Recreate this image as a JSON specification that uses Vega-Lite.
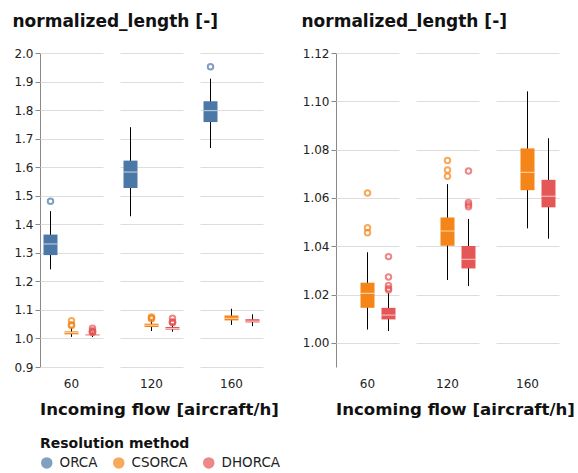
{
  "$schema": "https://vega.github.io/schema/vega-lite/v6.json",
  "padding": {"left": 12, "top": 12, "right": 0, "bottom": 0},
  "config": {
    "font": "DejaVu Sans",
    "view": {"stroke": null},
    "axis": {"labelFontSize": 12, "titleFontSize": 17, "titleFontWeight": "bold", "titleAngle": 0, "titleAlign": "left", "titleBaseline": "alphabetic", "labelColor": "#222", "titleColor": "#111", "labelOverlap": false, "labelFlush": false},
    "header": {"labelFontSize": 12, "titleFontSize": 16.6, "titleFontWeight": "bold", "labelOrient": "bottom", "titleOrient": "bottom", "titleAnchor": "start", "labelColor": "#222", "titleColor": "#111", "labelPadding": 12, "titlePadding": 2},
    "legend": {"orient": "bottom", "direction": "horizontal", "titleFontSize": 14, "labelFontSize": 13.5, "symbolType": "circle", "symbolSize": 100, "symbolOpacity": 0.7, "labelColor": "#222", "titleColor": "#111", "labelOffset": 6, "columnPadding": 12},
    "concat": {"spacing": 22}
  },
  "datasets": {
    "stats": [
      {"flow": 60, "method": "ORCA", "lower": 1.242, "q1": 1.292, "median": 1.331, "q3": 1.364, "upper": 1.446},
      {"flow": 120, "method": "ORCA", "lower": 1.428, "q1": 1.527, "median": 1.583, "q3": 1.623, "upper": 1.740},
      {"flow": 160, "method": "ORCA", "lower": 1.667, "q1": 1.758, "median": 1.798, "q3": 1.831, "upper": 1.910},
      {"flow": 60, "method": "CSORCA", "lower": 1.0055, "q1": 1.0145, "median": 1.0205, "q3": 1.0249, "upper": 1.0375},
      {"flow": 60, "method": "DHORCA", "lower": 1.0049, "q1": 1.0097, "median": 1.0115, "q3": 1.0145, "upper": 1.0207},
      {"flow": 120, "method": "CSORCA", "lower": 1.026, "q1": 1.0402, "median": 1.0463, "q3": 1.0519, "upper": 1.0657},
      {"flow": 120, "method": "DHORCA", "lower": 1.0235, "q1": 1.0308, "median": 1.0346, "q3": 1.0401, "upper": 1.0513},
      {"flow": 160, "method": "CSORCA", "lower": 1.0474, "q1": 1.0632, "median": 1.0706, "q3": 1.0805, "upper": 1.1041},
      {"flow": 160, "method": "DHORCA", "lower": 1.0431, "q1": 1.0561, "median": 1.0607, "q3": 1.0675, "upper": 1.0847},
      {"flow": 60, "method": "ORCA", "outlier": 1.481},
      {"flow": 160, "method": "ORCA", "outlier": 1.952},
      {"flow": 60, "method": "CSORCA", "outlier": 1.062},
      {"flow": 60, "method": "CSORCA", "outlier": 1.0477},
      {"flow": 60, "method": "CSORCA", "outlier": 1.0456},
      {"flow": 60, "method": "DHORCA", "outlier": 1.0357},
      {"flow": 60, "method": "DHORCA", "outlier": 1.0273},
      {"flow": 60, "method": "DHORCA", "outlier": 1.0237},
      {"flow": 60, "method": "DHORCA", "outlier": 1.0225},
      {"flow": 60, "method": "DHORCA", "outlier": 1.0219},
      {"flow": 120, "method": "CSORCA", "outlier": 1.0755},
      {"flow": 120, "method": "CSORCA", "outlier": 1.0716},
      {"flow": 120, "method": "CSORCA", "outlier": 1.069},
      {"flow": 120, "method": "DHORCA", "outlier": 1.0711},
      {"flow": 120, "method": "DHORCA", "outlier": 1.0581},
      {"flow": 120, "method": "DHORCA", "outlier": 1.0572},
      {"flow": 120, "method": "DHORCA", "outlier": 1.0563}
    ]
  },
  "hconcat": [
    {
      "data": {"name": "stats"},
      "facet": {"column": {"field": "flow", "type": "ordinal", "header": {"title": "Incoming flow [aircraft/h]"}}},
      "spacing": 17,
      "spec": {
        "width": 63,
        "height": 314,
        "encoding": {
          "x": {"field": "method", "type": "nominal", "scale": {"type": "band", "domain": ["ORCA", "CSORCA", "DHORCA"]}, "axis": null},
          "color": {"field": "method", "type": "nominal", "scale": {"domain": ["ORCA", "CSORCA", "DHORCA"], "range": ["#4c78a8", "#f58518", "#e45756"]}, "legend": {"title": "Resolution method"}}
        },
        "layer": [
          {
            "transform": [{"filter": "isValid(datum.q1)"}],
            "mark": {"type": "rule", "color": "black"},
            "encoding": {
              "y": {"field": "lower", "type": "quantitative", "scale": {"domain": [0.9, 2.0], "nice": false, "zero": false},
                    "axis": {"title": "normalized_length [-]", "titleX": -28, "titleY": -27, "tickCount": 12, "labelOverlap": false, "format": ".1f"}},
              "y2": {"field": "upper"},
              "color": {"value": "black"}
            }
          },
          {
            "transform": [{"filter": "isValid(datum.q1)"}],
            "mark": {"type": "bar", "size": 14},
            "encoding": {"y": {"field": "q1", "type": "quantitative"}, "y2": {"field": "q3"}}
          },
          {
            "transform": [{"filter": "isValid(datum.q1)"}],
            "mark": {"type": "tick", "size": 14},
            "encoding": {"y": {"field": "median", "type": "quantitative"}, "color": {"value": "white"}}
          },
          {
            "transform": [{"filter": "isValid(datum.outlier)"}],
            "mark": {"type": "point"},
            "encoding": {"y": {"field": "outlier", "type": "quantitative"}}
          }
        ]
      }
    },
    {
      "data": {"name": "stats"},
      "transform": [{"filter": "datum.method !== 'ORCA'"}],
      "facet": {"column": {"field": "flow", "type": "ordinal", "header": {"title": "Incoming flow [aircraft/h]"}}},
      "spacing": 17,
      "spec": {
        "width": 63,
        "height": 314,
        "encoding": {
          "x": {"field": "method", "type": "nominal", "scale": {"type": "band", "domain": ["ORCA", "CSORCA", "DHORCA"]}, "axis": null},
          "color": {"field": "method", "type": "nominal", "scale": {"domain": ["ORCA", "CSORCA", "DHORCA"], "range": ["#4c78a8", "#f58518", "#e45756"]}, "legend": {"title": "Resolution method"}}
        },
        "layer": [
          {
            "transform": [{"filter": "isValid(datum.q1)"}],
            "mark": {"type": "rule", "color": "black"},
            "encoding": {
              "y": {"field": "lower", "type": "quantitative", "scale": {"domain": [0.99, 1.12], "nice": false, "zero": false},
                    "axis": {"title": "normalized_length [-]", "titleX": -35, "titleY": -27, "values": [1.0, 1.02, 1.04, 1.06, 1.08, 1.1, 1.12], "format": ".2f"}},
              "y2": {"field": "upper"},
              "color": {"value": "black"}
            }
          },
          {
            "transform": [{"filter": "isValid(datum.q1)"}],
            "mark": {"type": "bar", "size": 14},
            "encoding": {"y": {"field": "q1", "type": "quantitative"}, "y2": {"field": "q3"}}
          },
          {
            "transform": [{"filter": "isValid(datum.q1)"}],
            "mark": {"type": "tick", "size": 14},
            "encoding": {"y": {"field": "median", "type": "quantitative"}, "color": {"value": "white"}}
          },
          {
            "transform": [{"filter": "isValid(datum.outlier)"}],
            "mark": {"type": "point"},
            "encoding": {"y": {"field": "outlier", "type": "quantitative"}}
          }
        ]
      }
    }
  ]
}
